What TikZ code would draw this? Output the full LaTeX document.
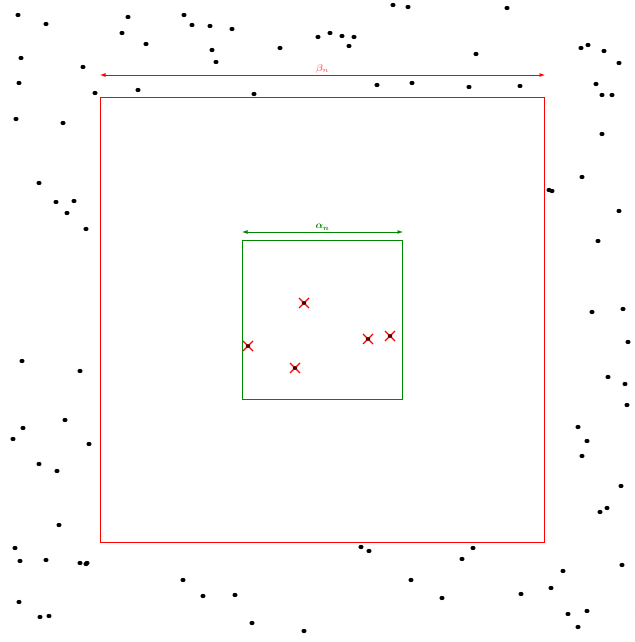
\documentclass[tikz,border=0pt]{standalone}
\usepackage{amsmath}
\usetikzlibrary{arrows.meta}
\definecolor{bigred}{RGB}{255,0,0}
\definecolor{lblred}{RGB}{255,110,110}
\definecolor{smallgreen}{RGB}{0,135,0}
\begin{document}
\begin{tikzpicture}[x=1bp,y=-1bp,
  pt/.style={fill=black},
  dimarrow/.style={line width=0.9bp,{Latex[length=5.5bp,width=4bp]}-{Latex[length=5.5bp,width=4bp]}},
  boxline/.style={line width=0.9bp},
  crossline/.style={bigred,line width=1.2bp}]
\useasboundingbox (0,0) rectangle (635,642);
% outer square
\coordinate (R1) at (100,97);
\coordinate (R2) at (544,542);
\draw[boxline,bigred] (R1) rectangle (R2);
\coordinate (bL) at (100,75);
\coordinate (bR) at (545,75);
\draw[dimarrow,bigred] (bL) -- (bR) node[midway,above=0.5bp,text=lblred,inner sep=1bp] (beta) {$\boldsymbol{\beta_n}$};
% inner square
\coordinate (G1) at (242,240);
\coordinate (G2) at (402,399);
\draw[boxline,smallgreen] (G1) rectangle (G2);
\coordinate (aL) at (242,232);
\coordinate (aR) at (403,232);
\draw[dimarrow,smallgreen] (aL) -- (aR) node[midway,above=0.5bp,text=smallgreen,inner sep=1bp] (alpha) {$\boldsymbol{\alpha_n}$};
% dots
\foreach \x/\y in {18/15,46/24,128/17,122/33,146/44,184/15,192/25,210/26,232/29,212/50,216/62,280/48,318/37,21/58,83/67,19/83,95/93,138/90,254/94,16/119,63/123,
330/33,342/36,354/37,349/46,393/5,408/7,507/8,476/54,377/85,412/83,469/87,520/86,581/48,588/45,604/51,619/63,596/84,602/95,612/95,
39/183,56/202,74/201,67/213,86/229,22/361,80/371,65/420,23/428,13/439,89/444,
602/134,582/177,549/190,552/191,619/211,598/241,592/312,623/309,628/342,608/377,625/384,627/405,578/427,587/441,
39/464,57/471,59/525,15/548,20/561,46/560,80/563,87/563,86/564,19/602,40/617,49/616,183/580,203/596,235/595,252/623,304/631,
582/456,621/486,600/512,607/508,361/547,369/551,473/548,462/559,411/580,442/598,521/594,551/588,563/571,622/565,568/614,587/611,578/627}
  \fill[pt] (\x,\y) ellipse [x radius=2.6bp, y radius=2.1bp];
\fill[black!15] (635,613) circle (0.6bp);
% crosses
\foreach \x/\y in {304/303,248/346,295/368,368/339,390/336}{
  \draw[crossline] (\x-5,\y-5) -- (\x+5,\y+5);
  \draw[crossline] (\x-5,\y+5) -- (\x+5,\y-5);
  \fill[black!70!red] (\x,\y) ellipse [x radius=2.3bp, y radius=1.9bp];
}
\end{tikzpicture}
\end{document}
